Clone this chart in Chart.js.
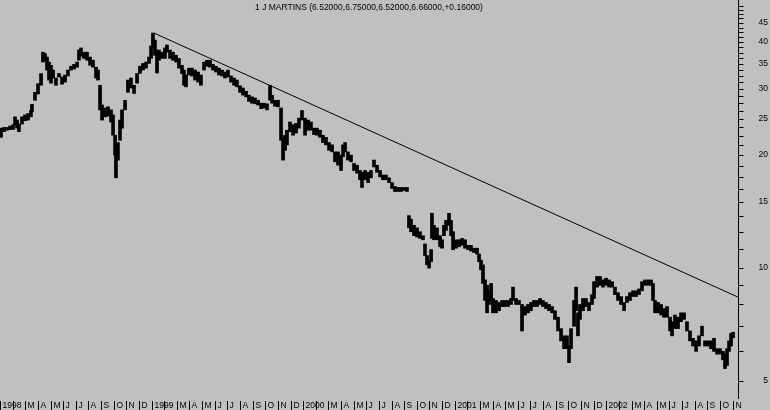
<!DOCTYPE html>
<html>
<head>
<meta charset="utf-8">
<script src="https://cdn.jsdelivr.net/npm/chart.js@4"></script>
<style>
  html, body { margin: 0; padding: 0; background: #c0c0c0; }
  #wrap { width: 770px; height: 410px; }
</style>
</head>
<body>
<div id="wrap"><canvas id="priceChart" width="770" height="410"></canvas></div>
<script>
const title = "1 J MARTINS (6.52000,6.75000,6.52000,6.66000,+0.16000)";

// month index 0 = Jan 1998
const startYear = 1998;
const monthCount = 59; // Jan 1998 .. Nov 2002
const monthLetters = ["", "", "M", "A", "M", "J", "J", "A", "S", "O", "N", "D"];

// y axis ticks
const yLabels = [5, 10, 15, 20, 25, 30, 35, 40, 45];
const yMinorTicks = [6, 7, 8, 9, 11.25, 12.5, 13.75, 16.25, 17.5, 18.75, 21.25, 22.5, 23.75,
  26.25, 27.5, 28.75, 31.25, 32.5, 33.75, 36.25, 37.5, 38.75, 41.25, 42.5, 43.75, 46.25, 47.5, 48.75, 50];

// price series (x in months from Jan 1998)
const months = [0.08, 0.32, 0.55, 0.79, 1.03, 1.19, 1.35, 1.50, 1.74, 1.98, 2.22, 2.45, 2.53, 2.77, 3.01, 3.25,
  3.40, 3.56, 3.72, 3.88, 4.04, 4.20, 4.43, 4.67, 4.91, 5.15, 5.38, 5.62, 5.86, 6.10, 6.25, 6.41, 6.65, 6.89,
  7.13, 7.36, 7.60, 7.76, 7.92, 8.08, 8.31, 8.55, 8.79, 8.95, 9.11, 9.18, 9.34, 9.50, 9.66, 9.90, 10.13, 10.37,
  10.61, 10.85, 11.08, 11.32, 11.56, 11.80, 11.96, 12.11, 12.27, 12.43, 12.59, 12.83, 13.06, 13.22, 13.46, 13.70,
  13.94, 14.17, 14.41, 14.57, 14.73, 14.96, 15.20, 15.44, 15.68, 15.91, 16.15, 16.39, 16.63, 16.86, 17.10, 17.34,
  17.58, 17.81, 18.05, 18.29, 18.53, 18.76, 19.00, 19.24, 19.48, 19.71, 19.95, 20.19, 20.43, 20.67, 20.90, 21.14,
  21.38, 21.54, 21.77, 22.01, 22.25, 22.41, 22.57, 22.72, 22.96, 23.20, 23.44, 23.67, 23.91, 24.15, 24.39, 24.62,
  24.86, 25.10, 25.34, 25.57, 25.81, 26.05, 26.29, 26.52, 26.76, 27.00, 27.16, 27.32, 27.55, 27.79, 28.03, 28.27,
  28.50, 28.66, 28.90, 29.14, 29.37, 29.61, 29.85, 30.09, 30.32, 30.56, 30.80, 31.04, 31.27, 31.51, 31.75, 31.99,
  32.22, 32.38, 32.54, 32.78, 33.02, 33.25, 33.49, 33.65, 33.81, 33.97, 34.13, 34.20, 34.36, 34.60, 34.84, 35.00,
  35.15, 35.31, 35.55, 35.71, 35.87, 36.10, 36.34, 36.58, 36.82, 37.05, 37.29, 37.53, 37.77, 37.93, 38.08, 38.24,
  38.40, 38.56, 38.72, 38.88, 39.03, 39.27, 39.51, 39.75, 39.98, 40.22, 40.46, 40.62, 40.86, 41.09, 41.33, 41.57,
  41.81, 42.04, 42.28, 42.52, 42.76, 42.99, 43.23, 43.47, 43.71, 43.94, 44.18, 44.42, 44.66, 44.89, 45.05, 45.21,
  45.45, 45.61, 45.76, 45.92, 46.16, 46.40, 46.63, 46.87, 47.03, 47.27, 47.51, 47.74, 47.98, 48.22, 48.46, 48.69,
  48.93, 49.17, 49.41, 49.64, 49.88, 50.12, 50.36, 50.59, 50.83, 51.07, 51.31, 51.54, 51.70, 51.86, 52.10, 52.34,
  52.57, 52.81, 53.05, 53.21, 53.44, 53.68, 53.92, 54.16, 54.39, 54.63, 54.87, 55.11, 55.34, 55.58, 55.82, 56.06,
  56.29, 56.53, 56.77, 57.01, 57.24, 57.40, 57.56, 57.72, 57.88, 58.04];

const highs = [23.6, 23.7, 23.7, 23.9, 24.1, 25.3, 24.8, 24.2, 25.3, 25.6, 25.8, 26.3, 27.3, 29.4, 31.0, 33.0,
  37.6, 37.3, 36.5, 35.4, 34.7, 33.7, 32.1, 33.0, 32.3, 32.7, 33.7, 34.5, 34.9, 35.4, 38.1, 38.6, 37.6, 37.6,
  36.5, 35.8, 34.3, 33.7, 30.7, 27.2, 26.7, 26.9, 26.4, 25.6, 22.6, 21.3, 21.6, 24.8, 26.4, 28.0, 31.7, 32.1,
  30.7, 33.0, 34.5, 35.1, 35.4, 36.5, 39.1, 42.3, 40.5, 38.1, 38.1, 37.6, 38.6, 39.3, 38.1, 37.6,
  36.9, 36.2, 34.7, 33.7, 32.7, 34.1, 34.1, 33.7, 33.3, 32.7, 35.4, 35.8, 35.8, 34.9, 34.5, 34.1,
  33.7, 33.3, 33.7, 32.5, 32.1, 31.7, 30.6, 30.2, 29.6, 28.9, 28.6, 28.4, 28.0, 27.5, 27.5, 27.4,
  30.7, 28.9, 28.0, 28.0, 26.7, 22.3, 22.6, 23.3, 24.5, 24.1, 24.3, 25.1, 26.3, 25.1, 24.8, 24.5,
  23.6, 23.6, 23.3, 22.6, 22.3, 21.6, 21.3, 20.4, 20.4, 20.0, 21.3, 21.6, 20.4, 20.0, 19.0, 18.8,
  18.2, 18.0, 18.2, 18.0, 18.2, 19.4, 18.8, 18.2, 17.7, 17.7, 17.4, 16.9, 16.5, 16.4, 16.4, 16.4,
  16.4, 13.8, 13.5, 13.0, 12.8, 12.5, 12.2, 11.6, 10.8, 10.5, 11.2, 14.0, 13.0, 12.8, 12.2, 11.9,
  13.0, 13.4, 14.0, 13.4, 12.5, 11.9, 11.9, 12.0, 11.9, 11.5, 11.5, 11.3, 11.3, 10.9, 10.5, 10.2,
  9.3, 9.0, 8.7, 9.1, 8.3, 8.2, 8.1, 8.2, 8.2, 8.2, 8.3, 8.9, 8.3, 8.2, 8.0, 7.9,
  8.0, 8.1, 8.2, 8.2, 8.3, 8.2, 8.1, 8.0, 7.9, 7.7, 7.4, 6.9, 6.6, 6.6, 6.2, 6.9,
  8.2, 8.9, 7.6, 8.0, 8.3, 8.3, 8.1, 8.5, 9.2, 9.5, 9.5, 9.3, 9.4, 9.3, 9.2, 8.9,
  8.6, 8.4, 8.1, 8.4, 8.6, 8.7, 8.7, 8.8, 9.2, 9.3, 9.3, 9.3, 9.1, 8.2, 8.1, 8.0,
  7.8, 7.9, 7.4, 7.2, 7.5, 7.4, 7.6, 7.6, 7.2, 6.8, 6.5, 6.4, 6.6, 7.0, 6.4, 6.4,
  6.4, 6.5, 6.1, 6.1, 6.0, 5.9, 6.1, 6.4, 6.7, 6.75];

const lows = [22.3, 23.1, 23.3, 23.4, 23.4, 24.1, 23.6, 23.1, 24.2, 24.7, 24.8, 25.3, 26.1, 28.0, 29.1, 30.7,
  35.4, 35.8, 33.7, 31.7, 31.1, 32.1, 30.7, 32.3, 30.9, 31.3, 32.5, 33.7, 33.9, 34.3, 35.8, 36.7, 36.2, 35.8,
  34.7, 34.3, 32.1, 31.7, 26.4, 24.8, 25.3, 25.4, 24.5, 22.6, 20.0, 17.4, 19.4, 21.9, 23.6, 26.4, 29.4, 30.2,
  29.2, 31.1, 33.0, 33.7, 34.1, 35.1, 36.2, 38.6, 36.9, 33.1, 35.8, 36.2, 36.2, 37.6, 36.2, 35.8,
  35.4, 34.1, 33.0, 30.7, 30.4, 32.7, 32.5, 31.7, 31.3, 30.7, 33.7, 34.5, 34.3, 33.7, 33.3, 32.7,
  32.5, 32.1, 32.3, 31.3, 30.7, 30.4, 29.4, 28.9, 28.6, 27.8, 27.5, 27.4, 27.2, 26.6, 26.7, 26.4,
  28.0, 27.5, 27.0, 26.9, 21.9, 19.4, 20.6, 21.3, 23.1, 22.6, 22.9, 23.6, 24.8, 22.6, 23.3, 23.3,
  22.7, 22.6, 22.3, 21.6, 21.3, 20.6, 20.4, 19.2, 18.8, 18.2, 19.8, 20.4, 19.4, 19.2, 18.2, 17.9,
  17.2, 16.4, 17.2, 16.9, 17.4, 18.6, 18.0, 17.5, 17.2, 17.2, 16.9, 16.3, 16.0, 16.0, 16.0, 16.1,
  16.0, 12.8, 12.5, 12.2, 12.1, 12.0, 11.9, 10.8, 10.2, 10.0, 10.4, 12.0, 11.9, 11.9, 11.4, 11.3,
  12.2, 12.6, 13.0, 12.2, 11.2, 11.3, 11.4, 11.5, 11.3, 11.2, 11.1, 11.0, 10.9, 10.4, 9.9, 9.1,
  8.2, 7.6, 8.0, 8.2, 7.6, 7.6, 7.7, 7.9, 7.9, 7.9, 8.0, 8.2, 8.0, 8.0, 6.8, 7.5,
  7.6, 7.7, 7.9, 7.9, 8.0, 7.9, 7.8, 7.7, 7.6, 7.3, 6.8, 6.4, 6.1, 6.1, 5.6, 6.1,
  7.0, 7.7, 6.6, 7.3, 7.7, 7.9, 7.7, 8.0, 8.3, 8.9, 9.0, 8.9, 9.0, 8.9, 8.9, 8.5,
  8.2, 8.0, 7.7, 8.1, 8.2, 8.4, 8.4, 8.5, 8.7, 9.0, 9.0, 9.0, 8.2, 7.6, 7.6, 7.5,
  7.4, 7.4, 6.8, 6.6, 6.9, 6.9, 7.2, 7.3, 6.8, 6.4, 6.2, 6.0, 6.2, 6.6, 6.2, 6.2,
  6.1, 6.0, 5.9, 5.9, 5.7, 5.4, 5.5, 6.0, 6.2, 6.52];

// trend line from the Dec 1998 peak to the right edge
const trendMonths = [12.19, 58.43];
const trendValues = [42.3, 8.37];

const bars = months.map((m, i) => ({ x: m, y: [lows[i], highs[i]] }));
const trend = trendMonths.map((m, i) => ({ x: m, y: trendValues[i] }));

const bgPlugin = {
  id: 'bg',
  beforeDraw(chart) {
    const ctx = chart.ctx;
    ctx.save();
    ctx.fillStyle = '#c0c0c0';
    ctx.fillRect(0, 0, chart.width, chart.height);
    ctx.restore();
  }
};

// draws the price axis, the month boxes and the title
const axesPlugin = {
  id: 'axes',
  afterDraw(chart) {
    const ctx = chart.ctx;
    const xs = chart.scales.x, ys = chart.scales.y;
    const area = chart.chartArea;
    ctx.save();
    ctx.strokeStyle = '#000';
    ctx.fillStyle = '#000';
    ctx.lineWidth = 1;

    // right axis
    const ax = Math.round(area.right) + 0.5;
    ctx.beginPath();
    ctx.moveTo(ax, 0);
    ctx.lineTo(ax, area.bottom);
    yLabels.concat(yMinorTicks).forEach(v => {
      const y = Math.round(ys.getPixelForValue(v)) + 0.5;
      ctx.moveTo(ax, y);
      ctx.lineTo(ax + 5, y);
    });
    ctx.stroke();
    ctx.font = '8.5px "Liberation Sans", Arial, sans-serif';
    ctx.textAlign = 'right';
    ctx.textBaseline = 'middle';
    yLabels.forEach(v => {
      ctx.fillText(String(v), 768, ys.getPixelForValue(v));
    });

    // month boxes
    ctx.textAlign = 'left';
    ctx.font = '8.5px "Liberation Sans", Arial, sans-serif';
    ctx.beginPath();
    for (let m = 0; m < monthCount; m++) {
      const x = Math.round(xs.getPixelForValue(m)) + 0.5;
      ctx.moveTo(x, area.bottom + 2);
      ctx.lineTo(x, chart.height);
      const label = m % 12 === 0 ? String(startYear + m / 12) : monthLetters[m % 12];
      ctx.fillText(label, x + 2, area.bottom + 6.5);
    }
    ctx.stroke();

    // title
    ctx.textAlign = 'center';
    ctx.font = '8.5px "Liberation Sans", Arial, sans-serif';
    ctx.fillText(title, 369, 8);
    ctx.restore();
  }
};

new Chart(document.getElementById('priceChart'), {
  type: 'bar',
  data: {
    datasets: [{
      type: 'bar',
      data: bars,
      backgroundColor: '#000',
      borderWidth: 0,
      barThickness: 3,
      grouped: false
    }, {
      type: 'line',
      data: trend,
      borderColor: '#000',
      borderWidth: 1,
      pointRadius: 0,
      fill: false
    }]
  },
  options: {
    responsive: false,
    animation: false,
    layout: { padding: { left: 0, right: 32, top: 0, bottom: 11 } },
    plugins: { legend: { display: false }, tooltip: { enabled: false } },
    scales: {
      x: { type: 'linear', min: 0, max: 58.43, offset: false, display: false },
      y: { type: 'logarithmic', min: 4.48, max: 51.8, display: false }
    }
  },
  plugins: [bgPlugin, axesPlugin]
});
</script>
</body>
</html>
